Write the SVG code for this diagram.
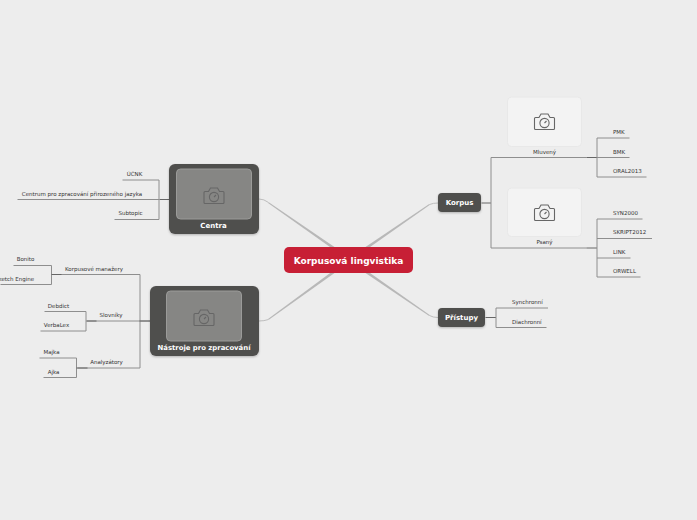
<svg xmlns="http://www.w3.org/2000/svg" width="697" height="520" viewBox="0 0 697 520">
<style>
text{font-family:"DejaVu Sans",sans-serif}
.leaf{font-size:5.5px;fill:#333;text-anchor:middle}
.st{text-anchor:start}
.b{font-weight:bold;fill:#fff;text-anchor:middle}
.l{fill:none;stroke:#8e8e8e;stroke-width:1}
.d{fill:none;stroke:#666;stroke-width:1}
.t{fill:none;stroke:#bdbdbd;stroke-width:1}
.w{fill:#b8b8b8}
.cam{fill:none;stroke:#666;stroke-width:1.1}
</style>
<defs>
<g id="cam"><path class="cam" d="M-9-4.500h3.500l2-3.500h7l2 3.500h3.500a1 1 0 0 1 1 1v10a1 1 0 0 1-1 1h-18a1 1 0 0 1-1-1v-10a1 1 0 0 1 1-1z"/><circle class="cam" cx="0" cy="1" r="4.600"/><path class="cam" d="M0 1l2-2"/></g>
<filter id="s" x="-10%" y="-10%" width="120%" height="125%"><feDropShadow dx="0" dy="1" stdDeviation="1" flood-opacity=".25"/></filter>
</defs>
<rect width="697" height="520" fill="#ededed"/>
<g id="connectors">
<polygon class="w" points="336,248 333.500,249.500 268,203 268.800,202.200"/><path class="t" d="M268.500 202.500Q264 199 259 199"/>
<polygon class="w" points="333.500,270.500 336,272 268.800,319.800 268,319"/><path class="t" d="M268.500 319.500Q264 321 259 321"/>
<polygon class="w" points="364,248 366.500,249.500 430,204.800 429.200,204"/><path class="t" d="M429.500 204.500Q433 203 438 203"/>
<polygon class="w" points="364,272 366.500,270.500 430,315.200 429.200,316"/><path class="t" d="M429.500 315.500Q433 317.500 438 317.500"/>
<g transform="translate(0.500 0.500)">
<path class="l" d="M122 179.500H158.500V219H114M158.500 199H17"/><path class="d" d="M169 199H159"/>
<path class="l" d="M51 274H139.500V367.500H77M86 320.500H150"/><path class="d" d="M150 320.500H139" stroke-width="1.400"/>
<path class="l" d="M13 265H51V284H0"/><path class="d" d="M51 274H61"/>
<path class="l" d="M44 311H85.500V330.500H40"/><path class="d" d="M86 320.500H96" stroke-width="1.400"/>
<path class="l" d="M39 357.500H76V377H43"/><path class="d" d="M76 367.500H87"/>
<path class="d" d="M481 202.500H490.500"/><path class="l" d="M586 157H490.500V247.500H586"/>
<path class="d" d="M586 157H596.500"/><path class="d" stroke-width="1.400" d="M586 247.500H596.500"/>
<path class="l" d="M629 137.500H596.500V176.500H646M596.500 157H629"/>
<path class="l" d="M642 218.500H596.500V276.500H640M596.500 238H651.500M596.500 257.500H630"/>
<path class="d" d="M485 317H495.500"/><path class="l" d="M547.500 307.500H495.500V327H546"/>
</g>
</g>
<g id="center"><rect x="284" y="247" width="129" height="26" rx="5" fill="#c71f35"/><text class="b" x="348.500" y="264" font-size="9px">Korpusová lingvistika</text></g>
<g id="n-centra"><rect x="169" y="164" width="90" height="70" rx="6" fill="#504f4d" filter="url(#s)"/><rect x="176.500" y="169" width="75" height="50" rx="4" fill="#868684" stroke="#9b9b99"/><use href="#cam" x="214" y="196"/><text class="b" x="213.500" y="228" font-size="7px">Centra</text></g>
<g id="n-nastroje"><rect x="150" y="286" width="109" height="70" rx="6" fill="#504f4d" filter="url(#s)"/><rect x="166.500" y="291" width="75" height="50" rx="4" fill="#868684" stroke="#9b9b99"/><use href="#cam" x="204" y="318"/><text class="b" x="204" y="350" font-size="6.900px">Nástroje pro zpracování</text></g>
<g id="n-korpus"><rect x="438" y="193" width="43" height="19" rx="4" fill="#504f4d" filter="url(#s)"/><text class="b" x="459.500" y="205" font-size="7px">Korpus</text></g>
<g id="n-pristupy"><rect x="438" y="308" width="47" height="19" rx="4" fill="#504f4d" filter="url(#s)"/><text class="b" x="461.500" y="320" font-size="7px">Přístupy</text></g>
<g id="n-mluveny"><rect x="507.500" y="97" width="74" height="49.500" rx="4" fill="#f3f3f3" stroke="#e8e8e8"/><use href="#cam" x="544.500" y="122"/><text class="leaf" x="544.500" y="154">Mluvený</text></g>
<g id="n-psany"><rect x="507.500" y="188" width="74" height="48.500" rx="4" fill="#f3f3f3" stroke="#e8e8e8"/><use href="#cam" x="544.500" y="213"/><text class="leaf" x="544.500" y="244">Psaný</text></g>
<g id="leaves">
<text class="leaf" x="134.500" y="176">ÚČNK</text>
<text class="leaf" x="82" y="196">Centrum pro zpracování přirozeného jazyka</text>
<text class="leaf" x="130.500" y="215">Subtopic</text>
<text class="leaf" x="25.500" y="261">Bonito</text>
<text class="leaf" x="14.500" y="281">Sketch Engine</text>
<text class="leaf" x="94" y="271">Korpusové manažery</text>
<text class="leaf" x="58.500" y="308">Debdict</text>
<text class="leaf" x="56.500" y="327">VerbaLex</text>
<text class="leaf" x="111" y="317">Slovníky</text>
<text class="leaf" x="51.500" y="354">Majka</text>
<text class="leaf" x="53.500" y="374">Ajka</text>
<text class="leaf" x="106.500" y="364">Analyzátory</text>
<text class="leaf st" x="613" y="134">PMK</text>
<text class="leaf st" x="613" y="154">BMK</text>
<text class="leaf st" x="613" y="173">ORAL2013</text>
<text class="leaf st" x="613" y="215">SYN2000</text>
<text class="leaf st" x="613" y="234">SKRIPT2012</text>
<text class="leaf st" x="613" y="254">LINK</text>
<text class="leaf st" x="613" y="273">ORWELL</text>
<text class="leaf st" x="512" y="304">Synchronní</text>
<text class="leaf st" x="512" y="324">Diachronní</text>
</g>
</svg>
